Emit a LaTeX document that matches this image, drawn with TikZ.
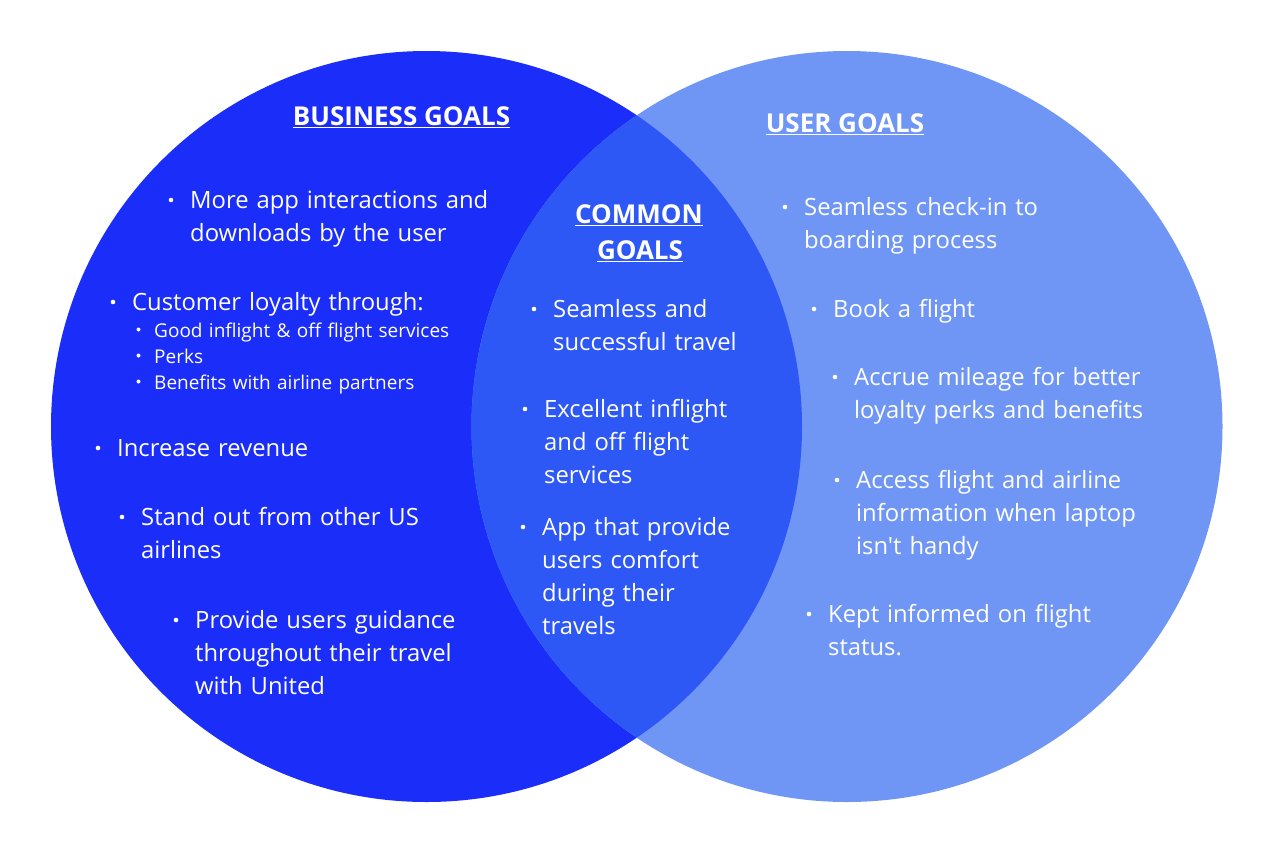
\documentclass[tikz,border=0pt]{standalone}
\usepackage{fontspec}
\newfontfamily\goalfont{Open Sans}
\usepackage{xcolor}
\usetikzlibrary{positioning, calc}
\definecolor{bizblue}{RGB}{27,45,249}
\definecolor{userblue}{RGB}{111,150,245}
\definecolor{commonblue}{RGB}{45,88,245}

\begin{document}
\begin{tikzpicture}[
  x=1pt, y=-1pt,
  goal/.style={circle, minimum size=751pt, inner sep=0pt},
  head/.style={text=white, font=\goalfont\bfseries\fontsize{26}{35}\selectfont, inner sep=0pt},
  item/.style={text=white, font=\goalfont\fontsize{23.8}{33}\selectfont, align=left,
               text width=340pt, anchor=base west, inner sep=0pt},
  subitem/.style={text=white, font=\goalfont\fontsize{19}{26}\selectfont, align=left,
                  text width=340pt, anchor=base west, inner sep=0pt},
  dot/.style={circle, fill=white, minimum size=4.6pt, inner sep=0pt},
  subdot/.style={circle, fill=white, minimum size=4pt, inner sep=0pt},
  uline/.style={white, line width=1.1pt}
]
  \useasboundingbox (0,0) rectangle (1261,852);

  % The two goal circles
  \node[goal, fill=bizblue] (biz) at (426.5,426.5) {};
  \node[goal, fill=userblue] (usr) at (847,426.5) {};
  % Overlap of both circles
  \begin{scope}
    \clip (biz.center) circle[radius=375.5pt];
    \fill[commonblue] (usr.center) circle[radius=375.5pt];
  \end{scope}

  % Headings, underlined
  \node[head] (bizhead) at (401.5,116) {BUSINESS GOALS};
  \node[head] (comhead) at (639,214) {COMMON};
  \node[head] (comgoals) at (640,250) {GOALS};
  \node[head] (usrhead) at (845,123) {USER GOALS};
  \foreach \h in {bizhead, comhead, comgoals, usrhead}{
    \draw[uline] ([yshift=-2pt]\h.south west) -- ([yshift=-2pt]\h.south east);
  }

  % Bulleted items
  \foreach \n/\x/\y/\txt in {
      bizA/190/208/{More app interactions and\\downloads by the user},
      bizB/132/310/{Customer loyalty through:},
      bizC/117/456/{Increase revenue},
      bizD/141/525/{Stand out from other US\\airlines},
      bizE/195/628/{Provide users guidance\\throughout their travel\\with United},
      comA/553/317/{Seamless and\\successful travel},
      comB/544/417/{Excellent inflight\\and off flight\\services},
      comC/542/535/{App that provide\\users comfort\\during their\\travels},
      usrA/804/215/{Seamless check-in to\\boarding process},
      usrB/833/317/{Book a flight},
      usrC/854/385/{Accrue mileage for better\\loyalty perks and benefits},
      usrD/856/488/{Access flight and airline\\information when laptop\\isn't handy},
      usrE/828/622/{Kept informed on flight\\status.}}{
    \node[item] (\n) at (\x,\y) {\txt};
    \node[dot] (d\n) at ($(\n.base west)+(-19,-8)$) {};
  }

  % Sub items of customer loyalty
  \foreach \n/\y/\txt in {
      subA/337/{Good inflight \& off flight services},
      subB/363/{Perks},
      subC/389/{Benefits with airline partners}}{
    \node[subitem] (\n) at (154,\y) {\txt};
    \node[subdot] (d\n) at ($(\n.base west)+(-15.5,-7.5)$) {};
  }
\end{tikzpicture}
\end{document}
